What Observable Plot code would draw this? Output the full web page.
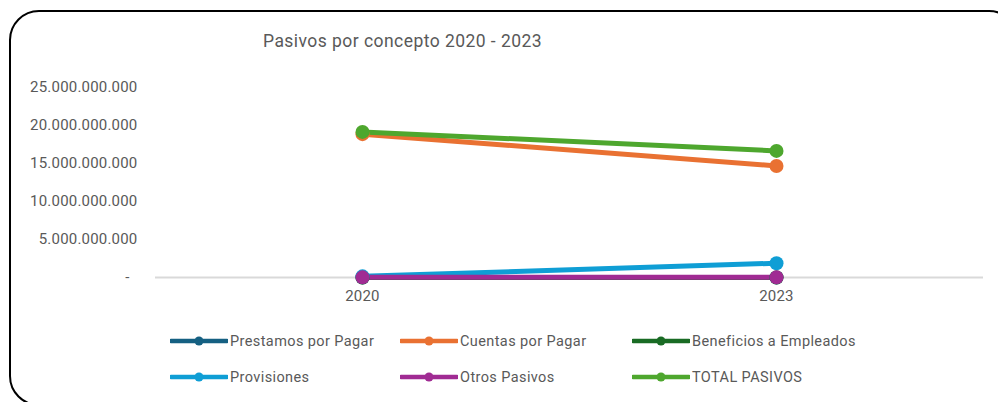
<!DOCTYPE html>
<html>
<head>
<meta charset="utf-8">
<script src="https://cdn.jsdelivr.net/npm/d3@7"></script>
<script src="https://cdn.jsdelivr.net/npm/@observablehq/plot@0.6"></script>
<style>
  html, body { margin: 0; padding: 0; background: #fff; overflow: hidden; }
  #wrap { position: relative; width: 998px; height: 402px; overflow: hidden; font-family: Roboto, sans-serif; color: #595959; }
  #card { position: absolute; left: 9px; top: 10px; width: 1010px; height: 396px; border: 2px solid #000; border-radius: 30px; box-sizing: border-box; }
  #title { position: absolute; left: 263px; top: 31px; font-size: 17.5px; letter-spacing: 0.45px; white-space: nowrap; }
  #chart { position: absolute; left: 0; top: 0; }
  .leg { position: absolute; display: flex; align-items: center; font-size: 14.5px; letter-spacing: 0.4px; white-space: nowrap; }
  .leg svg { margin-right: 2px; }
  #chart text { letter-spacing: 0.2px; }
</style>
</head>
<body>
<div id="wrap">
  <div id="card"></div>
  <div id="chart"></div>
  <div id="title">Pasivos por concepto 2020 - 2023</div>
  <div id="legend"></div>
</div>
<script>
const years = ["2020", "2023"];
const seriesNames = ["Prestamos por Pagar", "Cuentas por Pagar", "Beneficios a Empleados", "Provisiones", "Otros Pasivos", "TOTAL PASIVOS"];
const seriesColors = ["#156082", "#E97132", "#196B24", "#0F9ED5", "#A02B93", "#4EA72E"];
const prestamos = [0, 0];
const cuentas = [18860000000, 14680000000];
const beneficios = [0, 0];
const provisiones = [150000000, 1880000000];
const otros = [20000000, 20000000];
const total = [19160000000, 16660000000];
const yTicks = [0, 5000000000, 10000000000, 15000000000, 20000000000, 25000000000];

const seriesValues = [prestamos, cuentas, beneficios, provisiones, otros, total];
const data = [];
seriesNames.forEach((name, i) => {
  years.forEach((yr, j) => data.push({ serie: name, year: yr, value: seriesValues[i][j] }));
});

const loc = d3.formatLocale({ decimal: ",", thousands: ".", grouping: [3], currency: ["", ""] });
const fmt = loc.format(",.0f");

const plot = Plot.plot({
  width: 998,
  height: 310,
  marginLeft: 155,
  marginRight: 15,
  marginTop: 87,
  marginBottom: 33,
  style: { fontFamily: "Roboto, sans-serif", fontSize: "15px", color: "#595959", background: "transparent", overflow: "visible" },
  x: { type: "point", domain: years, padding: 0.5, label: null, tickSize: 0, tickPadding: 13 },
  y: { domain: [0, 25000000000], ticks: yTicks, label: null, tickSize: 0, tickPadding: 18,
       tickFormat: d => d === 0 ? "-\u00A0\u00A0" : fmt(d) },
  color: { domain: seriesNames, range: seriesColors },
  marks: [
    Plot.ruleY([0], { stroke: "#d9d9d9", strokeWidth: 2 }),
    Plot.axisX({ tickSize: 0, tickPadding: 13, fontSize: 15, fill: "#595959", label: null }),
    Plot.axisY({ ticks: yTicks, tickSize: 0, tickPadding: 18, fontSize: 15, fill: "#595959", label: null,
                 tickFormat: d => d === 0 ? "-\u00A0\u00A0" : fmt(d) }),
    ...seriesNames.map(name => Plot.line(data.filter(d => d.serie === name), {
      x: "year", y: "value", stroke: seriesColors[seriesNames.indexOf(name)], strokeWidth: 5, strokeLinecap: "butt"
    })),
    ...seriesNames.map(name => Plot.dot(data.filter(d => d.serie === name), {
      x: "year", y: "value", fill: seriesColors[seriesNames.indexOf(name)], r: 7
    }))
  ]
});
document.getElementById("chart").appendChild(plot);

// legend
const legX = [170, 400, 632];
const legY = [341, 377];
const legend = document.getElementById("legend");
seriesNames.forEach((name, i) => {
  const el = document.createElement("div");
  el.className = "leg";
  el.style.left = legX[i % 3] + "px";
  el.style.top = (legY[Math.floor(i / 3)] - 10) + "px";
  el.style.height = "20px";
  el.innerHTML = `<svg width="58" height="12"><line x1="1" x2="57" y1="6" y2="6" stroke="${seriesColors[i]}" stroke-width="4.5" stroke-linecap="round"/><circle cx="29" cy="6" r="4.5" fill="${seriesColors[i]}"/></svg><span>${name}</span>`;
  legend.appendChild(el);
});
</script>
</body>
</html>
